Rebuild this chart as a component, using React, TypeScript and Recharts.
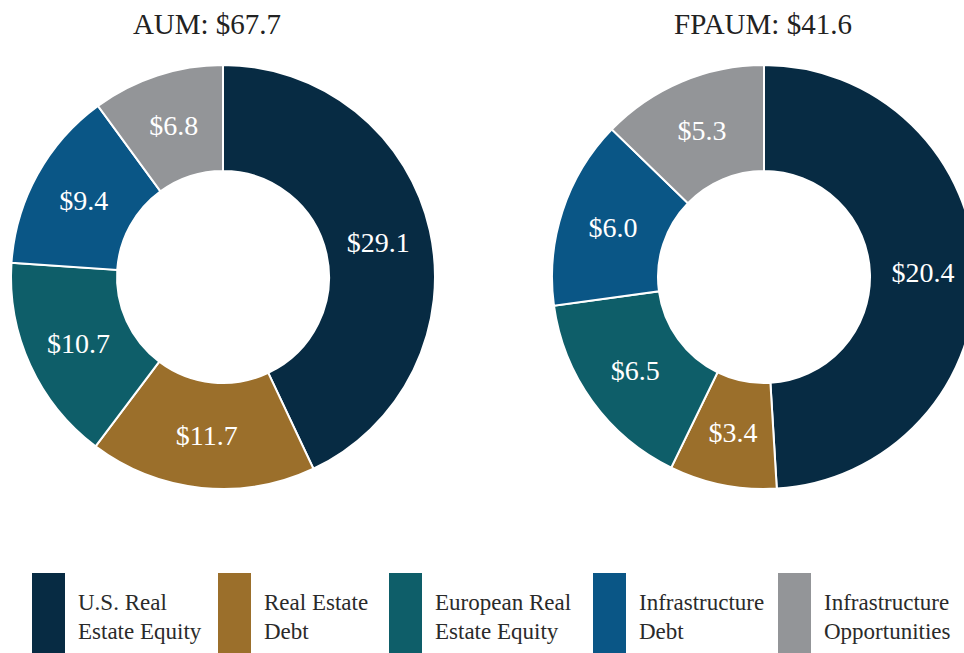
import React from 'react';
import { PieChart, Pie, Cell } from 'recharts';

const CATEGORIES = ['U.S. Real Estate Equity', 'Real Estate Debt', 'European Real Estate Equity', 'Infrastructure Debt', 'Infrastructure Opportunities'];
const LEGEND_LINES = [
  ['U.S. Real', 'Estate Equity'],
  ['Real Estate', 'Debt'],
  ['European Real', 'Estate Equity'],
  ['Infrastructure', 'Debt'],
  ['Infrastructure', 'Opportunities'],
];
const AUM_VALUES = [29.1, 11.7, 10.7, 9.4, 6.8];
const FPAUM_VALUES = [20.4, 3.4, 6.5, 6.0, 5.3];
const AUM_TITLE = 'AUM: $67.7';
const FPAUM_TITLE = 'FPAUM: $41.6';

const COLORS = ['#072b43', '#9b6f2b', '#0e5e69', '#0a5686', '#939598'];
const SERIF = '"Liberation Serif", "Times New Roman", serif';
const RADIAN = Math.PI / 180;

const aumData = CATEGORIES.map((name, i) => ({ name, value: AUM_VALUES[i] }));
const fpaumData = CATEGORIES.map((name, i) => ({ name, value: FPAUM_VALUES[i] }));

// value label sits in the middle of the ring
function renderLabel(props: any) {
  const { cx, cy, midAngle, innerRadius, outerRadius, value } = props;
  const r = (innerRadius + outerRadius) / 2;
  const x = cx + r * Math.cos(-midAngle * RADIAN);
  const y = cy + r * Math.sin(-midAngle * RADIAN);
  return (
    <text
      x={x}
      y={y}
      fill="#ffffff"
      textAnchor="middle"
      dominantBaseline="central"
      fontFamily={SERIF}
      fontSize={28}
    >
      {`$${Number(value).toFixed(1)}`}
    </text>
  );
}

const legendX = [32, 218, 389, 593, 778];

export default function App() {
  return (
    <div style={{ position: 'absolute', left: 0, top: 0, width: 964, height: 653, background: '#fff', overflow: 'hidden', fontFamily: SERIF }}>
      <div style={{ position: 'absolute', left: 7, top: 8, width: 400, textAlign: 'center', fontSize: 29, color: '#222', whiteSpace: 'nowrap' }}>{AUM_TITLE}</div>
      <div style={{ position: 'absolute', left: 563, top: 8, width: 400, textAlign: 'center', fontSize: 29, color: '#222', whiteSpace: 'nowrap' }}>{FPAUM_TITLE}</div>
      <div style={{ position: 'absolute', left: 0, top: 0 }}>
        <PieChart width={964} height={560} margin={{ top: 0, right: 0, bottom: 0, left: 0 }}>
          <Pie
            data={aumData}
            dataKey="value"
            nameKey="name"
            cx={223}
            cy={277}
            innerRadius={106}
            outerRadius={212}
            startAngle={90}
            endAngle={-270}
            stroke="#ffffff"
            strokeWidth={2}
            label={renderLabel}
            labelLine={false}
            isAnimationActive={false}
          >
            {aumData.map((d, i) => (
              <Cell key={d.name} fill={COLORS[i]} />
            ))}
          </Pie>
          <Pie
            data={fpaumData}
            dataKey="value"
            nameKey="name"
            cx={764}
            cy={277}
            innerRadius={106}
            outerRadius={212}
            startAngle={90}
            endAngle={-270}
            stroke="#ffffff"
            strokeWidth={2}
            label={renderLabel}
            labelLine={false}
            isAnimationActive={false}
          >
            {fpaumData.map((d, i) => (
              <Cell key={d.name} fill={COLORS[i]} />
            ))}
          </Pie>
        </PieChart>
      </div>
      {LEGEND_LINES.map((lines, i) => (
        <div key={i} style={{ position: 'absolute', left: legendX[i], top: 573, height: 80, display: 'flex' }}>
          <div style={{ width: 33, height: 80, background: COLORS[i] }} />
          <div style={{ marginLeft: 13, marginTop: 15, fontSize: 23, lineHeight: '29px', color: '#2a2a2a', whiteSpace: 'nowrap' }}>
            <div>{lines[0]}</div>
            <div>{lines[1]}</div>
          </div>
        </div>
      ))}
    </div>
  );
}
